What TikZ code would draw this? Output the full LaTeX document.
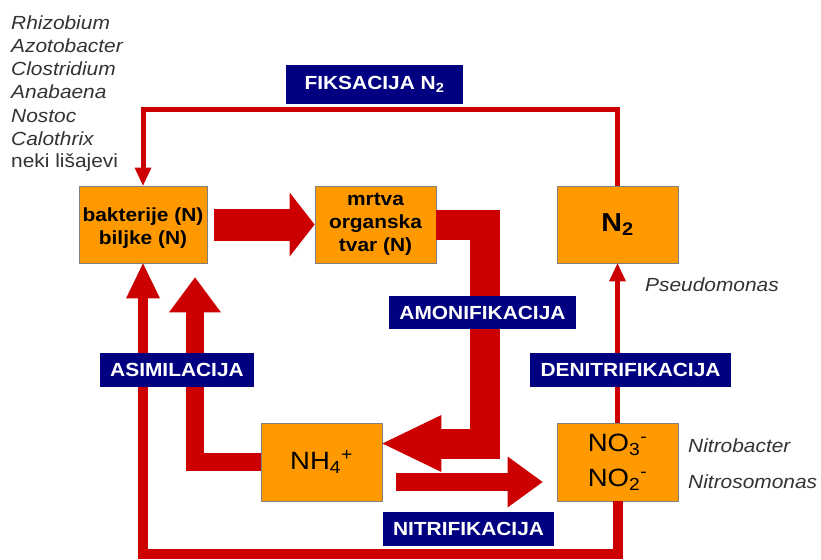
\documentclass[tikz,border=0pt]{standalone}
\usepackage{fontspec}
\setmainfont{Liberation Sans}[FakeStretch=1.1]
\usetikzlibrary{arrows.meta}
\definecolor{boxorange}{HTML}{FF9900}
\definecolor{flowred}{HTML}{CC0000}
\definecolor{labelnavy}{HTML}{000080}
\definecolor{listgray}{HTML}{333333}
\definecolor{boxedge}{HTML}{7F7F7F}
\begin{document}
\begin{tikzpicture}[x=1pt,y=-1pt,
  stage/.style={draw=boxedge, fill=boxorange, line width=0.8pt, minimum width=121pt,
    minimum height=77pt, inner sep=0pt, align=center},
  stagetext/.style={font=\fontsize{19}{22.8}\selectfont\bfseries},
  bigtext/.style={font=\fontsize{25}{35}\selectfont},
  process/.style={fill=labelnavy, text=white, inner sep=0pt, minimum height=34pt,
    font=\fontsize{19}{22}\selectfont\bfseries},
  organism/.style={anchor=base west, inner sep=0pt, text=listgray,
    font=\fontsize{19}{22.8}\selectfont\itshape},
  bigflow/.style={draw=flowred, line join=miter, line cap=butt},
  thinflow/.style={draw=flowred, line join=miter, line cap=butt}
]
\useasboundingbox (0,0) rectangle (821,559);
\fill[white] (0,0) rectangle (821,559);

% organism list
\node[organism] (o1) at (11,30) {Rhizobium};
\node[organism] (o2) at (11,53) {Azotobacter};
\node[organism] (o3) at (11,76) {Clostridium};
\node[organism] (o4) at (11,99) {Anabaena};
\node[organism] (o5) at (11,122) {Nostoc};
\node[organism] (o6) at (11,145) {Calothrix};
\node[organism, font=\fontsize{19}{22.8}\selectfont] (o7) at (11,167) {neki lišajevi};
\node[organism] (pseudo) at (645,291) {Pseudomonas};
\node[organism] (nitrob) at (688,452) {Nitrobacter};
\node[organism] (nitros) at (688,488) {Nitrosomonas};

% boxes
\node[stage, stagetext, minimum width=128pt] (bak) at (143,224.5)
  {\raisebox{-4pt}[\height][\depth]{\begin{tabular}{@{}c@{}}bakterije (N)\\biljke (N)\end{tabular}}};
\node[stage, stagetext] (mrt) at (375.5,224.5) {mrtva\\organska\\tvar (N)};
\node[stage, font=\fontsize{26}{30}\selectfont\bfseries] (n2) at (617.5,224.5) {N\textsubscript{2}};
\node[stage, bigtext, minimum height=78pt] (nh4) at (321.5,462) {NH\textsubscript{4}\textsuperscript{+}};
\node[stage, bigtext, minimum height=78pt] (no) at (617.5,462) {NO\textsubscript{3}\textsuperscript{-}\\NO\textsubscript{2}\textsuperscript{-}};

% helper coordinates
\coordinate (fixy) at (0,110);
\coordinate (bottomy) at (0,554);
\coordinate (amonx) at (485,0);
\coordinate (amtip) at ([yshift=18.5pt]nh4.east);
\coordinate (astip) at ([xshift=52pt,yshift=-14pt]bak.south);

% thin connectors
\draw[thinflow, line width=5pt, -{Triangle[width=17pt,length=18pt,line width=0pt]}]
  (n2.north) -- (n2.north |- fixy) -| (bak.north);
\draw[thinflow, line width=5pt, -{Triangle[width=17pt,length=18pt,line width=0pt]}]
  (no.north) -- (n2.south);
\draw[thinflow, line width=10pt, -{Triangle[width=34pt,length=35pt,line width=0pt]}]
  (no.south) -- (no.south |- bottomy) -| (bak.south);

% thick connectors
\draw[bigflow, line width=32pt, -{Triangle[width=64pt,length=25pt,line width=0pt]}]
  ([xshift=7pt]bak.east) -- (mrt.west);
\draw[bigflow, line width=30pt, -{Triangle[width=57pt,length=59pt,line width=0pt]}]
  (mrt.east) -| (amtip -| amonx) -- (amtip);
\draw[bigflow, line width=18pt, -{Triangle[width=52pt,length=35pt,line width=0pt]}]
  (nh4.west) -| (astip);
\draw[bigflow, line width=18pt, -{Triangle[width=51pt,length=35pt,line width=0pt]}]
  ([xshift=14pt,yshift=-20pt]nh4.east) -- ([xshift=-14pt,yshift=-20pt]no.west);

% process labels
\node[process, minimum width=177pt, minimum height=39pt] (fix) at (374.5,84.5) {FIKSACIJA N\textsubscript{2}};
\node[process, minimum width=187pt, minimum height=33pt] (amon) at (482.5,312.5) {AMONIFIKACIJA};
\node[process, minimum width=154pt] (asim) at (177,370) {ASIMILACIJA};
\node[process, minimum width=201pt] (denit) at (630.5,370) {DENITRIFIKACIJA};
\node[process, minimum width=171pt] (nitr) at (468.5,529) {NITRIFIKACIJA};
\end{tikzpicture}
\end{document}
